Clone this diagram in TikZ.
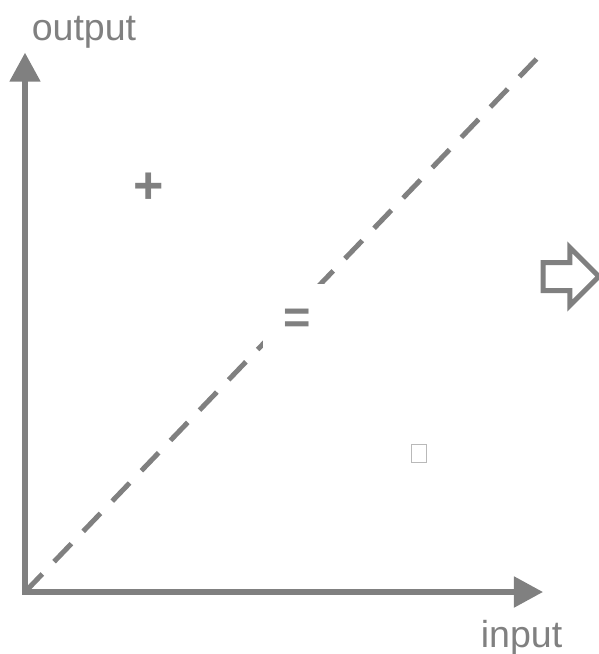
\documentclass[tikz,border=0pt]{standalone}
\usepackage{fontspec}
\setmainfont{Liberation Sans}
\usepackage{xcolor}
\usetikzlibrary{arrows.meta}

\definecolor{axisgray}{RGB}{128,128,128}
\definecolor{boxgray}{RGB}{185,185,185}

\begin{document}
\begin{tikzpicture}[
    x=0.025cm, y=-0.025cm,
    >={Triangle[length=0.725cm, width=0.75cm]},
    axis/.style={<->, draw=axisgray, line width=0.13cm, line join=miter},
    diag/.style={draw=axisgray, line width=0.125cm, dash pattern=on 0.625cm off 0.425cm},
    hint/.style={draw=axisgray, line width=0.125cm, line join=miter},
    axislabel/.style={text=axisgray, font=\fontsize{26.7}{32}\selectfont, inner sep=0pt, anchor=base},
    sign/.style={text=axisgray, font=\fontsize{33.4}{40}\selectfont\bfseries, fill=white, inner sep=0pt}
]
    \useasboundingbox (0,0) rectangle (599,654);

    % Axes
    \coordinate (O) at (25,592);
    \coordinate (ytip) at (25,52.7);
    \coordinate (xtip) at (543,592);
    \coordinate (dend) at (536.5,59);
    \draw[axis] (ytip) -- (O) -- (xtip);
    \draw[diag] (O) -- (dend);

    % Labels
    \node[axislabel] (out) at (84,40) {output};
    \node[axislabel] (in) at (521.5,647.3) {input};

    % Signs
    \node[sign, font=\fontsize{37}{44}\selectfont\bfseries] (plus) at (148.5,188.5) {+};
    \node[sign, minimum width=1.7cm, minimum height=1.85cm] (equal) at (297,321.5) {=};
    \node[draw=boxgray, line width=0.8pt, minimum width=0.365cm, minimum height=0.45cm, inner sep=0pt] (minus) at (419,453.7) {};

    % Hollow arrow
    \draw[hint] (543.2,262.5) -- (569.8,262.5) -- (569.8,247.5) -- (598.8,276.5)
        -- (569.8,305.5) -- (569.8,290.5) -- (543.2,290.5) -- cycle;
\end{tikzpicture}
\end{document}
